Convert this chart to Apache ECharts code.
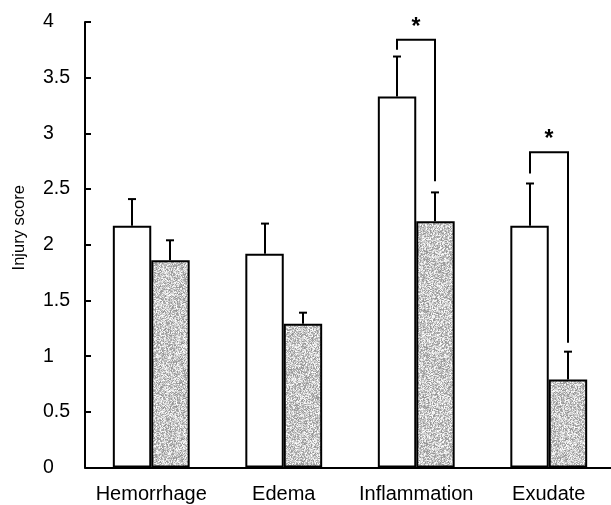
<!DOCTYPE html>
<html>
<head>
<meta charset="utf-8">
<script src="https://cdn.jsdelivr.net/npm/echarts@6/dist/echarts.min.js"></script>
<style>html,body{margin:0;padding:0;background:#fff;}#c{width:611px;height:505px;}</style>
</head>
<body>
<div id="c"></div>
<script>
var categories = ['Hemorrhage', 'Edema', 'Inflammation', 'Exudate'];
var controlValues = [2.17, 1.92, 3.33, 2.17];
var controlErrors = [0.24, 0.27, 0.36, 0.38];
var treatedValues = [1.86, 1.29, 2.21, 0.79];
var treatedErrors = [0.18, 0.10, 0.26, 0.25];
var yTicks = [0, 0.5, 1, 1.5, 2, 2.5, 3, 3.5, 4];
// significance brackets: [categoryIndex, leftBottom, rightBottom, top, label]
var brackets = [
  [2, 3.75, 2.57, 3.84, '*'],
  [3, 2.64, 1.12, 2.83, '*']
];

// stipple texture (deterministic hash, style only)
function makeTexture() {
  var n = 96, cv = document.createElement('canvas');
  cv.width = n; cv.height = n;
  var ctx = cv.getContext('2d');
  var img = ctx.createImageData(n, n);
  var s = 12345;
  for (var i = 0; i < n * n; i++) {
    s = (s * 1103515245 + 12345) & 0x7fffffff;
    var g = 145 + ((s >> 8) % 111);
    img.data[i * 4] = g; img.data[i * 4 + 1] = g; img.data[i * 4 + 2] = g; img.data[i * 4 + 3] = 255;
  }
  ctx.putImageData(img, 0, 0);
  return cv;
}
var texture = makeTexture();

var BAR_FRAC = 0.29;
var FONT = 'Liberation Sans, Arial, sans-serif';

function errRender(sign) {
  return function (params, api) {
    var idx = api.value(0), v = api.value(1), e = api.value(2);
    var band = api.size([1, 0])[0];
    var off = sign * band * BAR_FRAC / 2;
    var p0 = api.coord([idx, v]);
    var p1 = api.coord([idx, v + e]);
    var x = Math.round(p0[0] + off);
    return {
      type: 'group',
      children: [
        { type: 'line', shape: { x1: x, y1: p0[1], x2: x, y2: p1[1] }, style: { stroke: '#000', lineWidth: 2 } },
        { type: 'line', shape: { x1: x - 4, y1: p1[1], x2: x + 4, y2: p1[1] }, style: { stroke: '#000', lineWidth: 2 } }
      ]
    };
  };
}

function bracketRender(params, api) {
  var idx = api.value(0);
  var band = api.size([1, 0])[0];
  var off = band * BAR_FRAC / 2;
  var c = api.coord([idx, api.value(3)]);
  var xl = Math.round(c[0] - off), xr = Math.round(c[0] + off);
  var yl = api.coord([idx, api.value(1)])[1];
  var yr = api.coord([idx, api.value(2)])[1];
  var yt = c[1];
  return {
    type: 'group',
    children: [
      { type: 'polyline', shape: { points: [[xl, yl], [xl, yt], [xr, yt], [xr, yr]] }, style: { stroke: '#000', lineWidth: 2, fill: null } },
      { type: 'text', style: { text: brackets[params.dataIndex][4], x: (xl + xr) / 2, y: yt - 1, textAlign: 'center', textVerticalAlign: 'bottom', font: 'bold 23px ' + FONT, fill: '#000' } }
    ]
  };
}

var chart = echarts.init(document.getElementById('c'), null, { renderer: 'canvas' });
chart.setOption({
  animation: false,
  backgroundColor: '#fff',
  grid: { left: 85, top: 22, width: 530, height: 445.5, containLabel: false, outerBoundsMode: 'none' },
  xAxis: {
    type: 'category',
    data: categories,
    axisLine: { lineStyle: { color: '#000', width: 2 } },
    axisTick: { inside: true, length: 6, lineStyle: { color: '#000', width: 2 } },
    axisLabel: { color: '#000', fontSize: 20, fontFamily: FONT, margin: 17, interval: 0 }
  },
  yAxis: {
    type: 'value',
    min: 0, max: 4, interval: 0.5,
    name: 'Injury score',
    nameLocation: 'middle',
    nameGap: 57,
    nameTextStyle: { color: '#000', fontSize: 16.5, fontFamily: FONT, padding: [0, 0, 0, 34] },
    axisLine: { show: true, lineStyle: { color: '#000', width: 2 } },
    axisTick: { show: true, inside: true, length: 6, lineStyle: { color: '#000', width: 2 } },
    splitLine: { show: false },
    axisLabel: {
      color: '#000', fontSize: 19.5, fontFamily: FONT, align: 'left', margin: 42,
      formatter: function (v) { return yTicks.indexOf(v) >= 0 ? String(v) : ''; }
    }
  },
  series: [
    {
      type: 'bar', name: 'Control', data: controlValues,
      barWidth: (BAR_FRAC * 100) + '%', barGap: '0%',
      itemStyle: { color: '#fff', borderColor: '#000', borderWidth: 2 }
    },
    {
      type: 'bar', name: 'Treated', data: treatedValues,
      barWidth: (BAR_FRAC * 100) + '%', barGap: '0%',
      itemStyle: { color: { image: texture, repeat: 'repeat' }, borderColor: '#000', borderWidth: 2 }
    },
    {
      type: 'custom', renderItem: errRender(-1), z: 5,
      data: controlValues.map(function (v, i) { return [i, v, controlErrors[i]]; })
    },
    {
      type: 'custom', renderItem: errRender(1), z: 5,
      data: treatedValues.map(function (v, i) { return [i, v, treatedErrors[i]]; })
    },
    {
      type: 'custom', renderItem: bracketRender, z: 5,
      data: brackets.map(function (b) { return [b[0], b[1], b[2], b[3]]; })
    }
  ]
});
</script>
</body>
</html>
